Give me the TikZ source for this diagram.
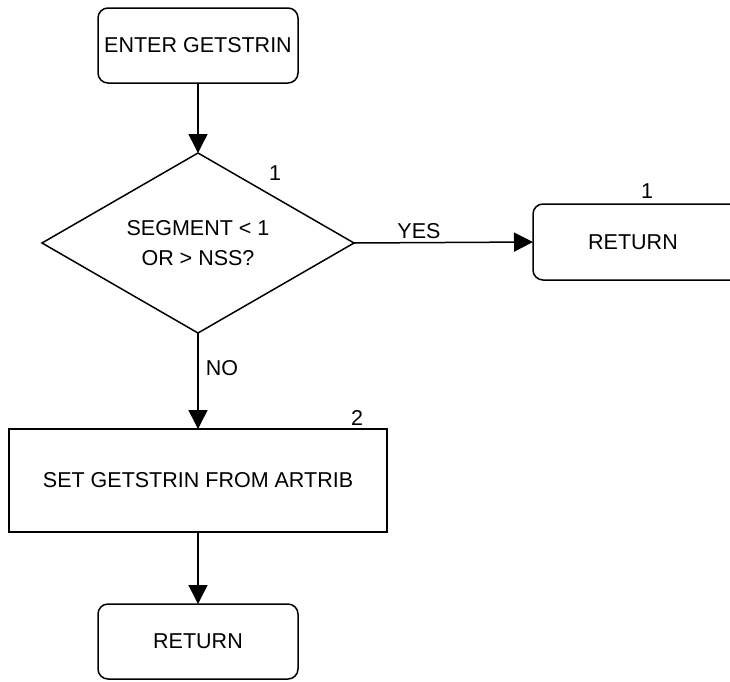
\documentclass[tikz,border=0pt]{standalone}
\usepackage{fontspec}
\setmainfont{Liberation Sans}
\usetikzlibrary{shapes.geometric,arrows.meta}

\tikzset{
    termbox/.style={draw, rounded corners=10pt, minimum width=200pt,
        minimum height=75pt, inner sep=0pt, outer sep=0pt},
    procbox/.style={draw, minimum width=378pt, minimum height=103pt,
        inner sep=0pt, outer sep=0pt},
    testbox/.style={draw, diamond, aspect=1.73, minimum width=312pt,
        minimum height=180pt, inner sep=0pt, outer sep=0pt, align=center},
    tag/.style={inner sep=0pt}
}

\begin{document}
\begin{tikzpicture}[x=1pt, y=-1pt, line width=1.5pt,
    font=\fontsize{21.5}{30}\selectfont,
    >={Triangle[length=19pt, width=19pt]}]
    \useasboundingbox (0,0) rectangle (730,681);

    % 1. Các khối
    \node[termbox] (enter) at (198,45.5) {ENTER GETSTRIN};
    \node[testbox] (test) at (198,243) {SEGMENT < 1\\OR > NSS?};
    \node[termbox, minimum width=208pt, minimum height=76pt] (ret1) at (637,242) {\hspace*{-4pt}RETURN\hspace*{4pt}};
    \node[procbox] (set) at (198,480.5) {SET GETSTRIN FROM ARTRIB};
    \node[termbox] (ret2) at (198,641.5) {RETURN};

    % 2. Mũi tên nối
    \draw[->] (enter) -- (test);
    \draw[->] (test.east) -- (ret1.west);
    \draw[->] (test.south) -- (set.north);
    \draw[->] (set) -- (ret2);

    % 3. Nhãn
    \node[tag] (yes) at (419,231) {YES};
    \node[tag] (no) at (222,368) {NO};
    \node[tag] (n1) at (275,173) {1};
    \node[tag] (n1r) at (647,191) {1};
    \node[tag] (n2) at (357,418) {2};
\end{tikzpicture}
\end{document}
